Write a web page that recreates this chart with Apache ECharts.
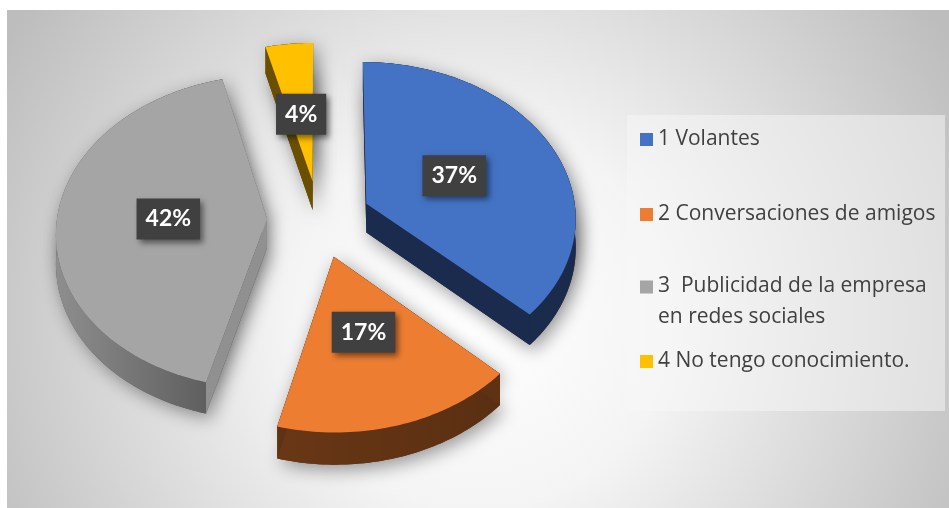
<!DOCTYPE html>
<html>
<head>
<meta charset="utf-8">
<script src="https://cdn.jsdelivr.net/npm/echarts@6/dist/echarts.min.js"></script>
<style>
html,body{margin:0;padding:0;background:#fff;}
#main{position:absolute;left:7px;top:10px;width:942px;height:498px;}
</style>
</head>
<body>
<div id="main"></div>
<script>
//categorias
let categorias = ['1 Volantes', '2 Conversaciones de amigos', '3  Publicidad de la empresa en redes sociales', '4 No tengo conocimiento.']
//porcentajes
let valores = [37, 17, 42, 4]
//colores de la cara superior
let colores = ['#4472C4', '#ED7D31', '#A5A5A5', '#FFC000']
//colores de los lados
let ladoClaro = ['#1c2e52', '#683716', '#8e8e8e', '#664c00']
let ladoOscuro = ['#1a2a4a', '#5a2f11', '#5a5a5a', '#5a4300']
let radialColor = ['#1a2b4d', '#5f3213', '#909090', '#6a4f00']

//geometria del pastel 3D
let cx = 312, cy = 209      //centro
let radio = 210             //radio horizontal
let incl = 0.74             //aplastamiento vertical
let persp = 0.08            //perspectiva
let sep = 52                //separacion de las porciones
let alto = 29               //grosor
let total = valores.reduce((a, b) => a + b, 0)

function pt(r, t, h, m){
    let X = sep * Math.sin(m) + r * Math.sin(t)
    let Z = sep * Math.cos(m) + r * Math.cos(t)
    let s = 1 / (1 + persp * Z / radio)
    return [cx + X * s, cy - Z * incl * s + h * s]
}

function arco(a0, a1, h, m){
    let n = Math.max(2, Math.ceil((a1 - a0) / 0.02))
    let pts = []
    for(let j = 0; j <= n; j++){
        pts.push(pt(radio, a0 + (a1 - a0) * j / n, h, m))
    }
    return pts
}

function renderSlice(i){
    return function(params, api){
        let acc = 0
        for(let j = 0; j < i; j++) acc += valores[j]
        let a0 = acc / total * Math.PI * 2
        let a1 = (acc + api.value(0)) / total * Math.PI * 2
        let m = (a0 + a1) / 2
        let tipTop = pt(0, 0, 0, m)
        let tipBot = pt(0, 0, alto, m)
        let arcTop = arco(a0, a1, 0, m)
        let arcBot = arco(a0, a1, alto, m)
        let base = Math.round(tipTop[1]) * 10
        let caraTop = [tipTop].concat(arcTop)
        let caraBot = [tipBot].concat(arcBot)
        let sombra = {
            fill: ladoOscuro[i],
            shadowBlur: 18,
            shadowColor: 'rgba(0,0,0,0.4)',
            shadowOffsetX: 4,
            shadowOffsetY: 5
        }
        let lbl = pt(radio * 0.47, m, 0, m)
        return {
            type: 'group',
            children: [
                {type: 'polygon', z2: 0, shape: {points: caraBot}, style: sombra},
                {type: 'polygon', z2: 0, shape: {points: caraTop}, style: sombra},
                {
                    type: 'polygon', z2: base + 1,
                    shape: {points: arcTop.concat(arcBot.slice().reverse())},
                    style: {fill: new echarts.graphic.LinearGradient(0, 0, 1, 0, [
                        {offset: 0, color: ladoClaro[i]},
                        {offset: 1, color: ladoOscuro[i]}
                    ])}
                },
                {
                    type: 'polygon', z2: base + 2,
                    shape: {points: [tipTop, arcTop[0], arcBot[0], tipBot]},
                    style: {fill: radialColor[i]}
                },
                {
                    type: 'polygon', z2: base + 2,
                    shape: {points: [tipTop, arcTop[arcTop.length - 1], arcBot[arcBot.length - 1], tipBot]},
                    style: {fill: radialColor[i]}
                },
                {type: 'polygon', z2: base + 3, shape: {points: caraTop}, style: {fill: colores[i]}},
                {
                    type: 'text', z2: 100000,
                    style: {
                        text: api.value(0) + '%',
                        x: lbl[0], y: lbl[1],
                        align: 'center', verticalAlign: 'middle',
                        fill: '#ffffff',
                        font: 'bold 23px Lato',
                        lineHeight: 23,
                        backgroundColor: '#404040',
                        padding: [9, 9, 9, 9],
                        shadowBlur: 6,
                        shadowColor: 'rgba(0,0,0,0.5)',
                        shadowOffsetX: 3,
                        shadowOffsetY: 3
                    }
                }
            ]
        }
    }
}

//posicion de la leyenda (centro de cada icono)
let legendCentros = [128, 203, 276, 350]

//item largo: se corta antes de "en redes"; la primera linea es mas alta para que el icono quede con ella
function textoLeyenda(name){
    let k = name.indexOf(' en redes')
    if(k < 0) return '{t|' + name + '}'
    return '{a|' + name.slice(0, k) + '}\n{b|' + name.slice(k + 1) + '}'
}

let myChart = echarts.init(document.getElementById('main'))
let option = {
    animation: false,
    backgroundColor: {
        type: 'radial', x: 0.5, y: 0.62, r: 1.1,
        colorStops: [
            {offset: 0, color: '#ffffff'},
            {offset: 0.35, color: '#f4f4f4'},
            {offset: 1, color: '#bdbdbd'}
        ]
    },
    graphic: [{
        type: 'rect',
        left: 620, top: 105,
        shape: {width: 318, height: 296},
        style: {fill: 'rgba(248,248,248,0.5)'},
        silent: true
    }],
    legend: categorias.map((c, i) => ({
        data: [c],
        left: 633,
        top: c.indexOf(' en redes') >= 0 ? legendCentros[i] - 10 : legendCentros[i] - 9,
        padding: 0,
        icon: 'rect',
        itemWidth: 13,
        itemHeight: 13,
        selectedMode: false,
        formatter: textoLeyenda,
        textStyle: {
            color: '#404040',
            fontSize: 21,
            fontFamily: 'Open Sans',
            rich: {
                t: {color: '#404040', fontSize: 21, fontFamily: 'Open Sans', lineHeight: 30},
                a: {color: '#404040', fontSize: 21, fontFamily: 'Open Sans', lineHeight: 60},
                b: {color: '#404040', fontSize: 21, fontFamily: 'Open Sans', lineHeight: 1}
            }
        }
    })),
    series: categorias.map((c, i) => ({
        type: 'custom',
        name: c,
        coordinateSystem: 'none',
        silent: true,
        itemStyle: {color: colores[i]},
        data: [[valores[i]]],
        renderItem: renderSlice(i)
    }))
}
myChart.setOption(option)
</script>
</body>
</html>
